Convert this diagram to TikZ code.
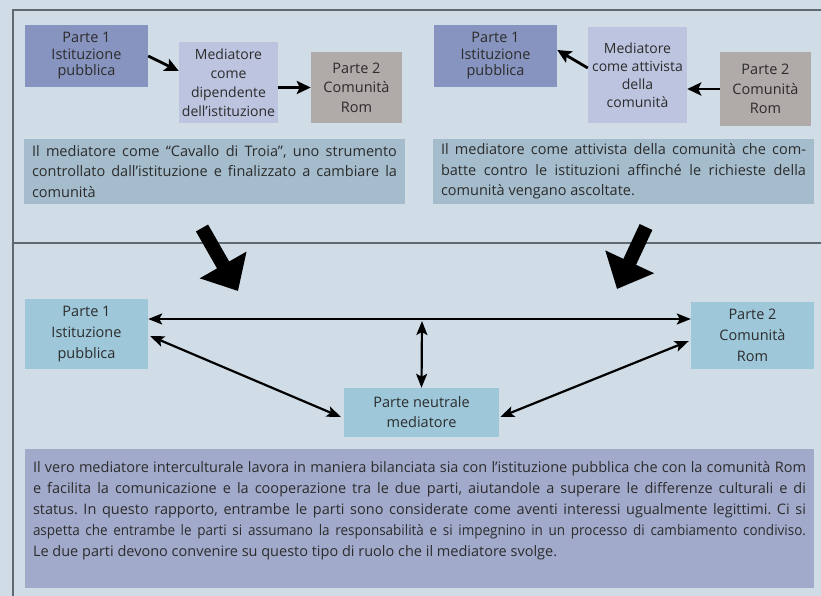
\documentclass[tikz,border=0pt]{standalone}
\usepackage{fontspec}
\setmainfont{Open Sans}
\newfontfamily\squeezefont[FakeStretch=0.93]{Open Sans}
\usetikzlibrary{arrows.meta, positioning, calc}

\definecolor{bgblue}{HTML}{D0DDE6}
\definecolor{rulegray}{HTML}{5F6971}
\definecolor{partone}{HTML}{8794BF}
\definecolor{medlight}{HTML}{BCC4DF}
\definecolor{parttwo}{HTML}{B0AAA8}
\definecolor{notebox}{HTML}{A4BCCC}
\definecolor{neutral}{HTML}{9EC8DA}
\definecolor{summary}{HTML}{A2AACB}
\definecolor{ink}{HTML}{2C2C2C}

\begin{document}
\frenchspacing
\begin{tikzpicture}[x=1pt, y=-1pt,
  box/.style={text=ink, font=\fontsize{14.5}{16.5}\selectfont, align=center, inner sep=0pt},
  lowbox/.style={box, fill=neutral, font=\fontsize{14.5}{21}\selectfont},
  note/.style={text=ink, font=\fontsize{14.5}{20.5}\selectfont, align=justify, inner xsep=8pt, inner ysep=0pt},
  small/.style={line width=2.8pt, -{Stealth[length=14pt,width=13pt,inset=3pt]}},
  both/.style={line width=2.2pt, {Stealth[length=14pt,width=11pt,inset=3pt]}-{Stealth[length=14pt,width=11pt,inset=3pt]}},
  big/.style={line width=14pt, -{Triangle[length=30pt,width=52pt]}}]
\useasboundingbox (0,0) rectangle (821,596);
\fill[bgblue] (0,0) rectangle (821,596);

% frame lines
\draw[rulegray, line width=1.3pt] (821,10) -- (13,10) -- (13,596);
\draw[rulegray, line width=1.8pt] (13,243) -- (821,243);

% mediatore dipendente
\node[box, fill=partone, minimum width=123pt, minimum height=62pt] (p1a) at (86.5,56) {Parte 1\\Istituzione\\pubblica};
\node[box, fill=medlight, minimum width=99pt, minimum height=81pt, font=\fontsize{14}{19}\selectfont] (ma) at (228.5,82.5) {Mediatore\\come\\dipendente\\dell’istituzione};
\node[box, fill=parttwo, minimum width=91pt, minimum height=71pt, font=\fontsize{14.5}{19.5}\selectfont] (p2a) at (356.5,87.5) {Parte 2\\Comunità\\Rom};
\node[note, fill=notebox, text width=365pt, minimum height=65pt] (ta) at (214.5,171.5)
  {Il mediatore come “Cavallo di Troia”, uno strumento\linebreak controllato dall’istituzione e finalizzato a cambiare la\linebreak comunità};
\draw[small] (p1a.east) -- ([yshift=11.5pt]ma.west);
\draw[small] (ma.east |- p2a.west) -- (p2a.west);

% mediatore attivista
\node[box, fill=partone, minimum width=123pt, minimum height=62pt] (p1b) at (495.5,56) {Parte 1\\Istituzione\\pubblica};
\node[box, fill=medlight, minimum width=99pt, minimum height=96pt, font=\fontsize{14}{18}\selectfont] (mb) at (637.5,75) {Mediatore\\come attivista\\della\\comunità};
\node[box, fill=parttwo, minimum width=91pt, minimum height=74pt, font=\fontsize{14.5}{19.5}\selectfont] (p2b) at (765.5,89) {Parte 2\\Comunità\\Rom};
\node[note, fill=notebox, text width=365pt, minimum height=65pt] (tb) at (623.5,171.5)
  {Il mediatore come attivista della comunità che com-\linebreak batte contro le istituzioni affinché le richieste della\linebreak comunità vengano ascoltate.};
\draw[small] ([yshift=7pt]mb.west) -- ([yshift=6pt]p1b.east);
\draw[small] (p2b.west) -- (p2b.west -| mb.east);

% big arrows
\coordinate (bl1) at (202,228);
\coordinate (bl2) at (238,291);
\coordinate (br1) at (646,227);
\coordinate (br2) at (617,289);
\draw[big] (bl1) -- (bl2);
\draw[big] (br1) -- (br2);

% mediatore neutrale
\node[lowbox, minimum width=123pt, minimum height=70pt] (p1c) at (86.5,334) {Parte 1\\Istituzione\\pubblica};
\node[lowbox, minimum width=123pt, minimum height=67pt] (p2c) at (752.5,335.5) {Parte 2\\Comunità\\Rom};
\node[lowbox, minimum width=155pt, minimum height=49pt, font=\fontsize{14.5}{20}\selectfont] (mc) at (421.5,412.5) {Parte neutrale\\mediatore};
\coordinate (mid) at (422,319);
\draw[both] (p1c.east |- mid) -- (p2c.west |- mid);
\draw[both] ([yshift=-2pt]mid) -- (mc.north);
\draw[both] ([xshift=2pt,yshift=-2pt]p1c.east) -- ([xshift=-3pt,yshift=-4.5pt]mc.west);
\draw[both] ([xshift=1pt,yshift=-4.5pt]mc.east) -- ([xshift=-2pt,yshift=-5.5pt]p2c.west);

\node[note, fill=summary, text width=773pt, minimum height=139pt, text depth=104pt, font=\fontsize{14.5}{21}\selectfont] (tc) at (419.5,518.5)
  {Il vero mediatore interculturale lavora in maniera bilanciata sia con l’istituzione pubblica che con la comunità Rom\linebreak
   e facilita la comunicazione e la cooperazione tra le due parti, aiutandole a superare le differenze culturali e di\linebreak
   status. In questo rapporto, entrambe le parti sono considerate come aventi interessi ugualmente legittimi. Ci si\linebreak
   {\squeezefont aspetta che entrambe le parti si assumano la responsabilità e si impegnino in un processo di cambiamento condiviso.}\linebreak
   Le due parti devono convenire su questo tipo di ruolo che il mediatore svolge.};
\end{tikzpicture}
\end{document}
